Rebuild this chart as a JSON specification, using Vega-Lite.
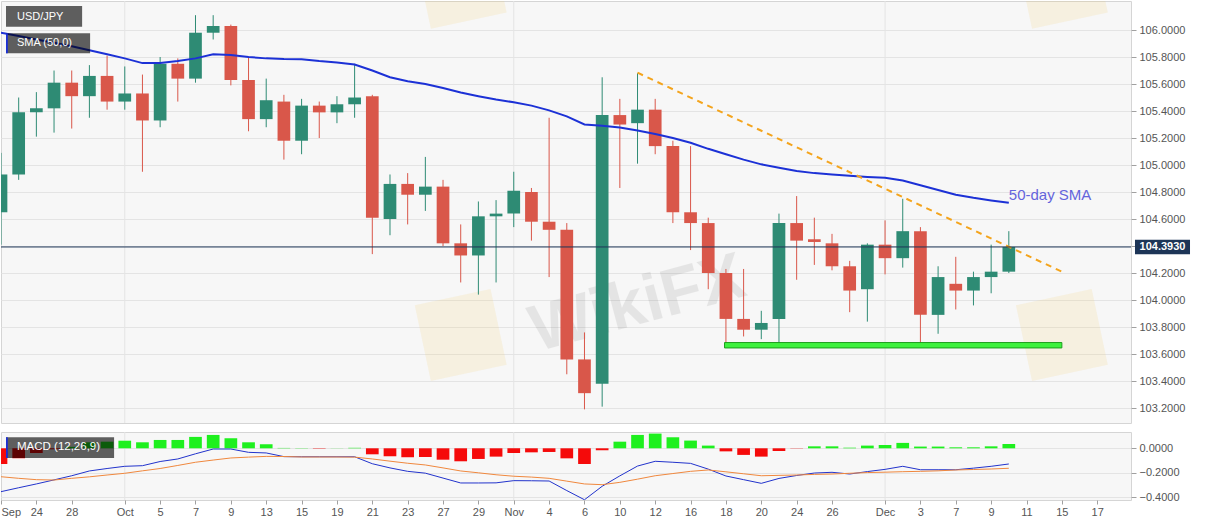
{
  "$schema": "https://vega.github.io/schema/vega-lite/v6.json",
  "padding": 0,
  "background": "white",
  "spacing": 7,
  "config": {
    "view": {"fill": "#f7f7f7", "stroke": "#d5d5d5"},
    "axis": {"labelFont": "Liberation Sans", "labelFontSize": 11, "labelColor": "#555555", "tickColor": "#a0a0a0", "gridColor": "#e4e4e4", "domain": false},
    "text": {"font": "Liberation Sans"}
  },
  "datasets": {
    "months": [{"date": "2020-10-01"}, {"date": "2020-11-02"}, {"date": "2020-12-01"}],
    "bars": [
      {"date": "2020-09-22", "open": 104.65, "high": 105.09, "low": 104.41, "close": 104.93, "sma": 105.98, "macd": -0.354, "signal": -0.232, "hist": -0.128},
      {"date": "2020-09-23", "open": 104.93, "high": 105.5, "low": 104.89, "close": 105.39, "sma": 105.955, "macd": -0.322, "signal": -0.245, "hist": -0.082},
      {"date": "2020-09-24", "open": 105.39, "high": 105.54, "low": 105.21, "close": 105.42, "sma": 105.93, "macd": -0.291, "signal": -0.256, "hist": -0.038},
      {"date": "2020-09-25", "open": 105.42, "high": 105.7, "low": 105.24, "close": 105.61, "sma": 105.905, "macd": -0.258, "signal": -0.259, "hist": -0.008},
      {"date": "2020-09-28", "open": 105.61, "high": 105.7, "low": 105.27, "close": 105.51, "sma": 105.88, "macd": -0.224, "signal": -0.245, "hist": 0.012},
      {"date": "2020-09-29", "open": 105.51, "high": 105.74, "low": 105.35, "close": 105.66, "sma": 105.85, "macd": -0.185, "signal": -0.233, "hist": 0.049},
      {"date": "2020-09-30", "open": 105.66, "high": 105.81, "low": 105.41, "close": 105.47, "sma": 105.82, "macd": -0.165, "signal": -0.218, "hist": 0.054},
      {"date": "2020-10-01", "open": 105.47, "high": 105.73, "low": 105.41, "close": 105.53, "sma": 105.79, "macd": -0.147, "signal": -0.204, "hist": 0.062},
      {"date": "2020-10-02", "open": 105.53, "high": 105.67, "low": 104.95, "close": 105.33, "sma": 105.755, "macd": -0.142, "signal": -0.184, "hist": 0.049},
      {"date": "2020-10-05", "open": 105.33, "high": 105.8, "low": 105.28, "close": 105.75, "sma": 105.755, "macd": -0.108, "signal": -0.165, "hist": 0.068},
      {"date": "2020-10-06", "open": 105.75, "high": 105.79, "low": 105.47, "close": 105.64, "sma": 105.77, "macd": -0.087, "signal": -0.14, "hist": 0.068},
      {"date": "2020-10-07", "open": 105.64, "high": 106.11, "low": 105.61, "close": 105.98, "sma": 105.79, "macd": -0.045, "signal": -0.114, "hist": 0.093},
      {"date": "2020-10-08", "open": 105.98, "high": 106.11, "low": 105.93, "close": 106.03, "sma": 105.82, "macd": -0.006, "signal": -0.096, "hist": 0.109},
      {"date": "2020-10-09", "open": 106.03, "high": 106.04, "low": 105.59, "close": 105.63, "sma": 105.815, "macd": -0.006, "signal": -0.079, "hist": 0.082},
      {"date": "2020-10-12", "open": 105.63, "high": 105.8, "low": 105.25, "close": 105.34, "sma": 105.8, "macd": -0.033, "signal": -0.072, "hist": 0.049},
      {"date": "2020-10-13", "open": 105.34, "high": 105.64, "low": 105.28, "close": 105.48, "sma": 105.79, "macd": -0.038, "signal": -0.066, "hist": 0.033},
      {"date": "2020-10-14", "open": 105.47, "high": 105.52, "low": 105.04, "close": 105.18, "sma": 105.785, "macd": -0.068, "signal": -0.067, "hist": 0.003},
      {"date": "2020-10-15", "open": 105.18, "high": 105.49, "low": 105.08, "close": 105.44, "sma": 105.783, "macd": -0.069, "signal": -0.071, "hist": 0.002},
      {"date": "2020-10-16", "open": 105.44, "high": 105.47, "low": 105.2, "close": 105.39, "sma": 105.77, "macd": -0.069, "signal": -0.071, "hist": -0.003},
      {"date": "2020-10-19", "open": 105.39, "high": 105.51, "low": 105.31, "close": 105.45, "sma": 105.76, "macd": -0.069, "signal": -0.071, "hist": 0.001},
      {"date": "2020-10-20", "open": 105.45, "high": 105.75, "low": 105.35, "close": 105.5, "sma": 105.745, "macd": -0.069, "signal": -0.072, "hist": 0.004},
      {"date": "2020-10-21", "open": 105.51, "high": 105.52, "low": 104.34, "close": 104.61, "sma": 105.7, "macd": -0.126, "signal": -0.087, "hist": -0.049},
      {"date": "2020-10-22", "open": 104.6, "high": 104.93, "low": 104.48, "close": 104.86, "sma": 105.65, "macd": -0.16, "signal": -0.105, "hist": -0.065},
      {"date": "2020-10-23", "open": 104.86, "high": 104.94, "low": 104.56, "close": 104.78, "sma": 105.62, "macd": -0.188, "signal": -0.122, "hist": -0.073},
      {"date": "2020-10-26", "open": 104.78, "high": 105.06, "low": 104.66, "close": 104.84, "sma": 105.6, "macd": -0.203, "signal": -0.136, "hist": -0.071},
      {"date": "2020-10-27", "open": 104.84, "high": 104.89, "low": 104.4, "close": 104.42, "sma": 105.57, "macd": -0.243, "signal": -0.16, "hist": -0.093},
      {"date": "2020-10-28", "open": 104.42, "high": 104.56, "low": 104.13, "close": 104.33, "sma": 105.537, "macd": -0.283, "signal": -0.185, "hist": -0.106},
      {"date": "2020-10-29", "open": 104.33, "high": 104.73, "low": 104.04, "close": 104.62, "sma": 105.51, "macd": -0.283, "signal": -0.2, "hist": -0.087},
      {"date": "2020-10-30", "open": 104.62, "high": 104.74, "low": 104.13, "close": 104.64, "sma": 105.485, "macd": -0.282, "signal": -0.216, "hist": -0.068},
      {"date": "2020-11-02", "open": 104.64, "high": 104.95, "low": 104.54, "close": 104.81, "sma": 105.465, "macd": -0.264, "signal": -0.228, "hist": -0.038},
      {"date": "2020-11-03", "open": 104.8, "high": 104.83, "low": 104.44, "close": 104.58, "sma": 105.44, "macd": -0.265, "signal": -0.235, "hist": -0.033},
      {"date": "2020-11-04", "open": 104.58, "high": 105.35, "low": 104.17, "close": 104.52, "sma": 105.405, "macd": -0.267, "signal": -0.245, "hist": -0.03},
      {"date": "2020-11-05", "open": 104.52, "high": 104.57, "low": 103.45, "close": 103.56, "sma": 105.36, "macd": -0.345, "signal": -0.268, "hist": -0.082},
      {"date": "2020-11-06", "open": 103.56, "high": 103.76, "low": 103.19, "close": 103.31, "sma": 105.3, "macd": -0.42, "signal": -0.291, "hist": -0.128},
      {"date": "2020-11-09", "open": 103.38, "high": 105.65, "low": 103.21, "close": 105.37, "sma": 105.29, "macd": -0.31, "signal": -0.297, "hist": -0.016},
      {"date": "2020-11-10", "open": 105.37, "high": 105.49, "low": 104.83, "close": 105.3, "sma": 105.278, "macd": -0.225, "signal": -0.278, "hist": 0.054},
      {"date": "2020-11-11", "open": 105.31, "high": 105.68, "low": 105.01, "close": 105.41, "sma": 105.256, "macd": -0.145, "signal": -0.252, "hist": 0.109},
      {"date": "2020-11-12", "open": 105.41, "high": 105.49, "low": 105.08, "close": 105.14, "sma": 105.23, "macd": -0.106, "signal": -0.224, "hist": 0.12},
      {"date": "2020-11-13", "open": 105.14, "high": 105.18, "low": 104.57, "close": 104.65, "sma": 105.2, "macd": -0.114, "signal": -0.206, "hist": 0.09},
      {"date": "2020-11-16", "open": 104.65, "high": 105.14, "low": 104.37, "close": 104.57, "sma": 105.165, "macd": -0.123, "signal": -0.188, "hist": 0.063},
      {"date": "2020-11-17", "open": 104.57, "high": 104.61, "low": 104.08, "close": 104.2, "sma": 105.12, "macd": -0.17, "signal": -0.177, "hist": 0.022},
      {"date": "2020-11-18", "open": 104.2, "high": 104.23, "low": 103.68, "close": 103.86, "sma": 105.08, "macd": -0.226, "signal": -0.192, "hist": -0.025},
      {"date": "2020-11-19", "open": 103.86, "high": 104.23, "low": 103.73, "close": 103.78, "sma": 105.04, "macd": -0.256, "signal": -0.208, "hist": -0.054},
      {"date": "2020-11-20", "open": 103.78, "high": 103.92, "low": 103.71, "close": 103.83, "sma": 105.005, "macd": -0.286, "signal": -0.224, "hist": -0.068},
      {"date": "2020-11-23", "open": 103.86, "high": 104.64, "low": 103.68, "close": 104.57, "sma": 104.98, "macd": -0.246, "signal": -0.221, "hist": -0.022},
      {"date": "2020-11-24", "open": 104.57, "high": 104.77, "low": 104.15, "close": 104.44, "sma": 104.955, "macd": -0.222, "signal": -0.218, "hist": -0.002},
      {"date": "2020-11-25", "open": 104.45, "high": 104.61, "low": 104.26, "close": 104.43, "sma": 104.94, "macd": -0.202, "signal": -0.213, "hist": 0.016},
      {"date": "2020-11-26", "open": 104.42, "high": 104.49, "low": 104.22, "close": 104.25, "sma": 104.93, "macd": -0.196, "signal": -0.21, "hist": 0.016},
      {"date": "2020-11-27", "open": 104.25, "high": 104.29, "low": 103.91, "close": 104.07, "sma": 104.92, "macd": -0.21, "signal": -0.204, "hist": 0.005},
      {"date": "2020-11-30", "open": 104.08, "high": 104.42, "low": 103.84, "close": 104.41, "sma": 104.912, "macd": -0.19, "signal": -0.198, "hist": 0.022},
      {"date": "2020-12-01", "open": 104.41, "high": 104.59, "low": 104.19, "close": 104.31, "sma": 104.905, "macd": -0.172, "signal": -0.195, "hist": 0.027},
      {"date": "2020-12-02", "open": 104.31, "high": 104.75, "low": 104.24, "close": 104.51, "sma": 104.885, "macd": -0.147, "signal": -0.191, "hist": 0.044},
      {"date": "2020-12-03", "open": 104.51, "high": 104.54, "low": 103.68, "close": 103.89, "sma": 104.85, "macd": -0.175, "signal": -0.188, "hist": 0.014},
      {"date": "2020-12-04", "open": 103.89, "high": 104.25, "low": 103.75, "close": 104.17, "sma": 104.815, "macd": -0.175, "signal": -0.184, "hist": 0.014},
      {"date": "2020-12-07", "open": 104.12, "high": 104.32, "low": 103.93, "close": 104.07, "sma": 104.78, "macd": -0.175, "signal": -0.177, "hist": 0.008},
      {"date": "2020-12-08", "open": 104.07, "high": 104.21, "low": 103.96, "close": 104.17, "sma": 104.757, "macd": -0.162, "signal": -0.173, "hist": 0.008},
      {"date": "2020-12-09", "open": 104.17, "high": 104.41, "low": 104.05, "close": 104.21, "sma": 104.738, "macd": -0.147, "signal": -0.169, "hist": 0.016},
      {"date": "2020-12-10", "open": 104.21, "high": 104.51, "low": 104.2, "close": 104.393, "sma": 104.72, "macd": -0.128, "signal": -0.163, "hist": 0.035}
    ]
  },
  "vconcat": [
    {
      "width": 1130,
      "height": 422,
      "resolve": {"axis": {"x": "independent", "y": "independent"}},
      "layer": [
        {
          "data": {"name": "months"},
          "mark": {"type": "rule", "color": "#e4e4e4", "strokeWidth": 1},
          "encoding": {
            "x": {"field": "date", "type": "ordinal", "axis": null,
              "scale": {"type": "point", "padding": 0.455, "align": 0,
                "domain": ["2020-09-22","2020-09-23","2020-09-24","2020-09-25","2020-09-28","2020-09-29","2020-09-30","2020-10-01","2020-10-02","2020-10-05","2020-10-06","2020-10-07","2020-10-08","2020-10-09","2020-10-12","2020-10-13","2020-10-14","2020-10-15","2020-10-16","2020-10-19","2020-10-20","2020-10-21","2020-10-22","2020-10-23","2020-10-26","2020-10-27","2020-10-28","2020-10-29","2020-10-30","2020-11-02","2020-11-03","2020-11-04","2020-11-05","2020-11-06","2020-11-09","2020-11-10","2020-11-11","2020-11-12","2020-11-13","2020-11-16","2020-11-17","2020-11-18","2020-11-19","2020-11-20","2020-11-23","2020-11-24","2020-11-25","2020-11-26","2020-11-27","2020-11-30","2020-12-01","2020-12-02","2020-12-03","2020-12-04","2020-12-07","2020-12-08","2020-12-09","2020-12-10","2020-12-11","2020-12-14","2020-12-15","2020-12-16","2020-12-17","2020-12-18"]}}
          }
        },
        {
          "data": {"values": [{"date": "2020-10-28", "level": 103.741}, {"date": "2020-12-15", "level": 103.741}, {"date": "2020-10-28", "level": 106.35}, {"date": "2020-12-15", "level": 106.35}]},
          "mark": {"type": "point", "shape": "square", "size": 6000, "filled": true, "color": "#f0c860", "opacity": 0.15, "strokeWidth": 0, "angle": -12, "clip": true},
          "encoding": {
            "x": {"field": "date", "type": "ordinal", "axis": null},
            "y": {"field": "level", "type": "quantitative", "axis": null}
          }
        },
        {
          "data": {"values": [{"mark": "WikiFX", "date": "2020-11-11", "level": 103.97}]},
          "mark": {"type": "text", "align": "center", "baseline": "middle", "fontSize": 66, "fontWeight": "bold", "color": "#000000", "opacity": 0.07, "angle": -15, "clip": true},
          "encoding": {
            "x": {"field": "date", "type": "ordinal", "axis": null},
            "y": {"field": "level", "type": "quantitative", "axis": null},
            "text": {"field": "mark"}
          }
        },
        {
          "data": {"name": "bars"},
          "mark": {"type": "rule", "strokeWidth": 1, "clip": true},
          "encoding": {
            "x": {"field": "date", "type": "ordinal", "axis": null},
            "y": {"field": "low", "type": "quantitative",
              "scale": {"domain": [103.089, 106.215], "nice": false, "zero": false},
              "axis": {"orient": "right", "title": null, "format": ".4f", "tickSize": 5, "labelPadding": 3, "grid": true,
                "values": [103.2, 103.4, 103.6, 103.8, 104.0, 104.2, 104.4, 104.6, 104.8, 105.0, 105.2, 105.4, 105.6, 105.8, 106.0]}},
            "y2": {"field": "high"},
            "color": {"condition": {"test": "datum.close >= datum.open", "value": "#2e8b74"}, "value": "#d9574a"}
          }
        },
        {
          "data": {"name": "bars"},
          "mark": {"type": "bar", "width": 12.7, "clip": true},
          "encoding": {
            "x": {"field": "date", "type": "ordinal", "axis": null},
            "y": {"field": "open", "type": "quantitative", "axis": null},
            "y2": {"field": "close"},
            "color": {"condition": {"test": "datum.close >= datum.open", "value": "#2e8b74"}, "value": "#d9574a"}
          }
        },
        {
          "data": {"name": "bars"},
          "mark": {"type": "line", "color": "#1c31d6", "strokeWidth": 2, "clip": true},
          "encoding": {
            "x": {"field": "date", "type": "ordinal", "axis": null},
            "y": {"field": "sma", "type": "quantitative", "axis": null}
          }
        },
        {
          "data": {"values": [{"date": "2020-11-11", "level": 105.684}, {"date": "2020-12-15", "level": 104.21}]},
          "mark": {"type": "line", "color": "#f4a41c", "strokeWidth": 2, "strokeDash": [6, 5]},
          "encoding": {
            "x": {"field": "date", "type": "ordinal", "axis": null},
            "y": {"field": "level", "type": "quantitative", "axis": null}
          }
        },
        {
          "data": {"values": [{"from": "2020-11-18", "to": "2020-12-15", "lo": 103.645, "hi": 103.685}]},
          "mark": {"type": "rect", "fill": "#3df23d", "stroke": "#1e9e1e", "strokeWidth": 1, "xOffset": -1.4},
          "encoding": {
            "x": {"field": "from", "type": "ordinal", "axis": null},
            "x2": {"field": "to"},
            "y": {"field": "hi", "type": "quantitative", "axis": null},
            "y2": {"field": "lo"}
          }
        },
        {
          "data": {"values": [{}]},
          "mark": {"type": "rule", "color": "#1d3557", "strokeWidth": 1},
          "encoding": {"y": {"datum": 104.393, "type": "quantitative", "axis": null}}
        },
        {
          "data": {"values": [{}]},
          "mark": {"type": "point", "shape": "M0.133,-0.243H1.967V0.243H0.133Z", "size": 3600, "filled": true, "color": "#1d3557", "opacity": 1, "strokeWidth": 0},
          "encoding": {"x": {"value": "width"}, "y": {"datum": 104.393, "type": "quantitative", "axis": null}}
        },
        {
          "data": {"values": [{}]},
          "mark": {"type": "text", "text": "104.3930", "align": "center", "baseline": "middle", "dx": 31.5, "fontSize": 11, "fontWeight": "bold", "color": "white"},
          "encoding": {"x": {"value": "width"}, "y": {"datum": 104.393, "type": "quantitative", "axis": null}}
        },
        {
          "data": {"values": [{}]},
          "mark": {"type": "rect", "fill": "#000000", "fillOpacity": 0.62, "xOffset": 5, "x2Offset": 10.4},
          "encoding": {
            "x": {"datum": "2020-09-22", "type": "ordinal", "axis": null},
            "x2": {"datum": "2020-09-28"},
            "y": {"datum": 106.178, "type": "quantitative", "axis": null},
            "y2": {"datum": 106.025}
          }
        },
        {
          "data": {"values": [{}]},
          "mark": {"type": "rect", "fill": "#000000", "fillOpacity": 0.62, "xOffset": 5, "x2Offset": 0.7},
          "encoding": {
            "x": {"datum": "2020-09-22", "type": "ordinal", "axis": null},
            "x2": {"datum": "2020-09-29"},
            "y": {"datum": 105.976, "type": "quantitative", "axis": null},
            "y2": {"datum": 105.828}
          }
        },
        {
          "data": {"values": [{}]},
          "mark": {"type": "rect", "fill": "#1a2fd6", "xOffset": 5, "x2Offset": 6.8},
          "encoding": {
            "x": {"datum": "2020-09-22", "type": "ordinal", "axis": null},
            "x2": {"datum": "2020-09-22"},
            "y": {"datum": 105.976, "type": "quantitative", "axis": null},
            "y2": {"datum": 105.828}
          }
        },
        {
          "data": {"values": [{"label": "USD/JPY", "level": 106.1}, {"label": "SMA (50,0)", "level": 105.902}]},
          "mark": {"type": "text", "align": "left", "baseline": "middle", "dx": 16, "fontSize": 11, "color": "white"},
          "encoding": {
            "x": {"datum": "2020-09-22", "type": "ordinal", "axis": null},
            "y": {"field": "level", "type": "quantitative", "axis": null},
            "text": {"field": "label"}
          }
        },
        {
          "data": {"values": [{}]},
          "mark": {"type": "text", "text": "50-day SMA", "align": "left", "baseline": "middle", "fontSize": 15, "color": "#6464dc"},
          "encoding": {
            "x": {"datum": "2020-12-10", "type": "ordinal", "axis": null},
            "y": {"datum": 104.78, "type": "quantitative", "axis": null}
          }
        }
      ]
    },
    {
      "width": 1130,
      "height": 68,
      "resolve": {"axis": {"x": "independent", "y": "independent"}},
      "layer": [
        {
          "data": {"name": "months"},
          "mark": {"type": "rule", "color": "#e4e4e4", "strokeWidth": 1},
          "encoding": {
            "x": {"field": "date", "type": "ordinal", "axis": null,
              "scale": {"type": "point", "padding": 0.455, "align": 0,
                "domain": ["2020-09-22","2020-09-23","2020-09-24","2020-09-25","2020-09-28","2020-09-29","2020-09-30","2020-10-01","2020-10-02","2020-10-05","2020-10-06","2020-10-07","2020-10-08","2020-10-09","2020-10-12","2020-10-13","2020-10-14","2020-10-15","2020-10-16","2020-10-19","2020-10-20","2020-10-21","2020-10-22","2020-10-23","2020-10-26","2020-10-27","2020-10-28","2020-10-29","2020-10-30","2020-11-02","2020-11-03","2020-11-04","2020-11-05","2020-11-06","2020-11-09","2020-11-10","2020-11-11","2020-11-12","2020-11-13","2020-11-16","2020-11-17","2020-11-18","2020-11-19","2020-11-20","2020-11-23","2020-11-24","2020-11-25","2020-11-26","2020-11-27","2020-11-30","2020-12-01","2020-12-02","2020-12-03","2020-12-04","2020-12-07","2020-12-08","2020-12-09","2020-12-10","2020-12-11","2020-12-14","2020-12-15","2020-12-16","2020-12-17","2020-12-18"]}}
          }
        },
        {
          "data": {"name": "bars"},
          "mark": {"type": "bar", "width": 12.7, "clip": true},
          "encoding": {
            "x": {"field": "date", "type": "ordinal",
              "axis": {"title": null, "orient": "bottom", "grid": false, "tickSize": 4, "labelPadding": 2, "labelFlush": true, "labelAngle": 0, "labelOverlap": false,
                "values": ["2020-09-22","2020-09-24","2020-09-28","2020-10-01","2020-10-05","2020-10-07","2020-10-09","2020-10-13","2020-10-15","2020-10-19","2020-10-21","2020-10-23","2020-10-27","2020-10-29","2020-11-02","2020-11-04","2020-11-06","2020-11-10","2020-11-12","2020-11-16","2020-11-18","2020-11-20","2020-11-24","2020-11-26","2020-12-01","2020-12-03","2020-12-07","2020-12-09","2020-12-11","2020-12-15","2020-12-17"],
                "labelExpr": "indexof(['2020-09-22','2020-10-01','2020-11-02','2020-12-01'], datum.value) >= 0 ? timeFormat(toDate(datum.value + 'T12:00:00'), '%b') : timeFormat(toDate(datum.value + 'T12:00:00'), '%-d')"}},
            "y": {"field": "hist", "type": "quantitative",
              "scale": {"domain": [-0.422, 0.133], "nice": false, "zero": false},
              "axis": {"orient": "right", "title": null, "format": ".4f", "tickSize": 5, "labelPadding": 3, "grid": true, "values": [0, -0.2, -0.4]}},
            "y2": {"datum": 0},
            "color": {"condition": {"test": "datum.hist >= 0", "value": "#1ef01e"}, "value": "#f50a0a"}
          }
        },
        {
          "data": {"name": "bars"},
          "mark": {"type": "line", "color": "#2233cc", "strokeWidth": 1, "clip": true},
          "encoding": {
            "x": {"field": "date", "type": "ordinal", "axis": null},
            "y": {"field": "macd", "type": "quantitative", "axis": null}
          }
        },
        {
          "data": {"name": "bars"},
          "mark": {"type": "line", "color": "#f0883e", "strokeWidth": 1, "clip": true},
          "encoding": {
            "x": {"field": "date", "type": "ordinal", "axis": null},
            "y": {"field": "signal", "type": "quantitative", "axis": null}
          }
        },
        {
          "data": {"values": [{}]},
          "mark": {"type": "rect", "fill": "#000000", "fillOpacity": 0.62, "xOffset": 5, "x2Offset": 7},
          "encoding": {
            "x": {"datum": "2020-09-22", "type": "ordinal", "axis": null},
            "x2": {"datum": "2020-09-30"},
            "y": {"datum": 0.09, "type": "quantitative", "axis": null},
            "y2": {"datum": -0.079}
          }
        },
        {
          "data": {"values": [{}]},
          "mark": {"type": "rect", "fill": "#1a2fd6", "xOffset": 5, "x2Offset": 6.8},
          "encoding": {
            "x": {"datum": "2020-09-22", "type": "ordinal", "axis": null},
            "x2": {"datum": "2020-09-22"},
            "y": {"datum": 0.09, "type": "quantitative", "axis": null},
            "y2": {"datum": -0.079}
          }
        },
        {
          "data": {"values": [{}]},
          "mark": {"type": "text", "text": "MACD (12,26,9)", "align": "left", "baseline": "middle", "dx": 16, "fontSize": 11.5, "color": "white"},
          "encoding": {
            "x": {"datum": "2020-09-22", "type": "ordinal", "axis": null},
            "y": {"datum": 0.008, "type": "quantitative", "axis": null}
          }
        }
      ]
    }
  ]
}
